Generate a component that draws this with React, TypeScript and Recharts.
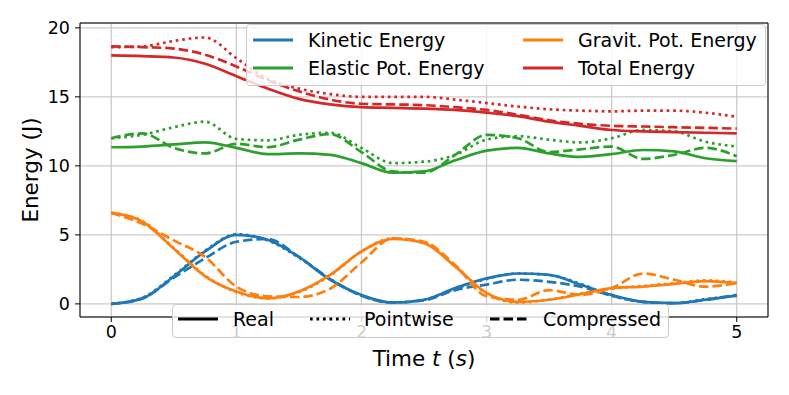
import React from 'react';
import { LineChart, Line, XAxis, YAxis, CartesianGrid, ReferenceArea } from 'recharts';

// time samples (s)
const TIME = [0, 0.25, 0.5, 0.75, 1, 1.25, 1.5, 1.75, 2, 2.25, 2.5, 2.75, 3, 3.25, 3.5, 3.75, 4, 4.25, 4.5, 4.75, 5];

const KINETIC_REAL = [0, 0.4, 2.0, 3.8, 5.0, 4.65, 3.4, 1.75, 0.65, 0.1, 0.3, 1.15, 1.85, 2.2, 2.1, 1.4, 0.65, 0.15, 0.05, 0.3, 0.6];
const KINETIC_POINT = [0, 0.45, 2.05, 3.85, 5.05, 4.6, 3.35, 1.8, 0.6, 0.1, 0.3, 1.1, 1.8, 2.2, 2.1, 1.45, 0.6, 0.15, 0.05, 0.35, 0.6];
const KINETIC_COMP = [0, 0.4, 1.9, 3.3, 4.5, 4.7, 3.4, 1.8, 0.6, 0.1, 0.25, 1.0, 1.4, 1.75, 1.6, 1.25, 0.6, 0.15, 0.05, 0.3, 0.65];

const ELASTIC_REAL = [11.35, 11.4, 11.55, 11.7, 11.3, 10.85, 10.9, 10.8, 10.2, 9.5, 9.6, 10.4, 11.1, 11.3, 10.9, 10.65, 10.85, 11.15, 11.05, 10.55, 10.35];
const ELASTIC_POINT = [12.0, 12.25, 12.8, 13.2, 11.95, 11.85, 12.25, 12.4, 11.3, 10.2, 10.3, 10.8, 11.9, 12.15, 11.9, 11.7, 12.0, 12.6, 12.5, 11.75, 11.4];
const ELASTIC_COMP = [12.0, 12.35, 11.3, 10.9, 11.6, 11.35, 11.9, 12.3, 11.0, 9.6, 9.5, 10.8, 12.25, 12.0, 11.0, 11.2, 11.4, 10.5, 10.8, 11.3, 10.7];

const GRAVIT_REAL = [6.6, 5.95, 4.0, 2.0, 0.9, 0.4, 0.9, 2.1, 3.8, 4.7, 4.4, 2.7, 0.8, 0.15, 0.3, 0.7, 1.15, 1.25, 1.45, 1.65, 1.5];
const GRAVIT_POINT = [6.6, 6.0, 4.05, 2.05, 0.85, 0.4, 0.85, 2.05, 3.8, 4.75, 4.45, 2.75, 0.75, 0.1, 0.3, 0.75, 1.1, 1.3, 1.5, 1.7, 1.55];
const GRAVIT_COMP = [6.6, 5.8, 4.6, 3.4, 1.25, 0.55, 0.5, 1.1, 3.0, 4.75, 4.5, 2.8, 0.55, 0.3, 1.0, 0.65, 1.15, 2.2, 1.75, 1.25, 1.5];

const TOTAL_REAL = [18.0, 17.95, 17.85, 17.4, 16.5, 15.6, 14.85, 14.45, 14.25, 14.2, 14.15, 14.05, 13.85, 13.6, 13.2, 12.9, 12.6, 12.5, 12.45, 12.4, 12.35];
const TOTAL_POINT = [18.6, 18.65, 19.05, 19.3, 17.8, 16.3, 15.6, 15.2, 15.0, 15.0, 15.0, 14.8, 14.55, 14.3, 14.1, 14.0, 13.95, 14.0, 14.0, 13.85, 13.55];
const TOTAL_COMP = [18.65, 18.6, 18.5, 18.05, 17.2, 16.2, 15.4, 14.8, 14.5, 14.45, 14.4, 14.25, 14.05, 13.7, 13.3, 13.05, 12.9, 12.85, 12.8, 12.75, 12.7];

const X_TICKS = [0, 1, 2, 3, 4, 5];
const Y_TICKS = [0, 5, 10, 15, 20];

const ENERGY_LABELS = ['Kinetic Energy', 'Elastic Pot. Energy', 'Gravit. Pot. Energy', 'Total Energy'];
const STYLE_LABELS = ['Real', 'Pointwise', 'Compressed'];

const BLUE = '#1f77b4';
const ORANGE = '#ff7f0e';
const GREEN = '#2ca02c';
const RED = '#d62728';

const DOT = '2.7 3.8';
const DASH = '9.5 4';
const FONT = '"DejaVu Sans", sans-serif';

const SERIES = [
  { key: 'kinReal', values: KINETIC_REAL, color: BLUE, dash: undefined },
  { key: 'kinPoint', values: KINETIC_POINT, color: BLUE, dash: DOT },
  { key: 'kinComp', values: KINETIC_COMP, color: BLUE, dash: DASH },
  { key: 'elaReal', values: ELASTIC_REAL, color: GREEN, dash: undefined },
  { key: 'elaPoint', values: ELASTIC_POINT, color: GREEN, dash: DOT },
  { key: 'elaComp', values: ELASTIC_COMP, color: GREEN, dash: DASH },
  { key: 'graReal', values: GRAVIT_REAL, color: ORANGE, dash: undefined },
  { key: 'graPoint', values: GRAVIT_POINT, color: ORANGE, dash: DOT },
  { key: 'graComp', values: GRAVIT_COMP, color: ORANGE, dash: DASH },
  { key: 'totReal', values: TOTAL_REAL, color: RED, dash: undefined },
  { key: 'totPoint', values: TOTAL_POINT, color: RED, dash: DOT },
  { key: 'totComp', values: TOTAL_COMP, color: RED, dash: DASH },
];

const data = TIME.map((t, i) => {
  const row: any = { t };
  SERIES.forEach((s) => { row[s.key] = s.values[i]; });
  return row;
});

const legendBox: React.CSSProperties = {
  position: 'absolute',
  background: 'rgba(255,255,255,0.8)',
  border: '1px solid #cccccc',
  borderRadius: 4,
  boxSizing: 'border-box',
};

const Sample = ({ x, y, color, dash }: { x: number; y: number; color: string; dash?: string }) => (
  <svg style={{ position: 'absolute', left: x, top: y - 3 }} width={40} height={6}>
    <line x1={0} y1={3} x2={40} y2={3} stroke={color} strokeWidth={2.8} strokeDasharray={dash} />
  </svg>
);

const LegendText = ({ x, y, children }: { x: number; y: number; children: React.ReactNode }) => (
  <div style={{ position: 'absolute', left: x, top: y - 12, lineHeight: '24px', fontSize: 19, fontFamily: FONT, color: '#000', whiteSpace: 'nowrap' }}>
    {children}
  </div>
);

const XLabel = (props: any) => {
  const vb = props.viewBox;
  return (
    <text x={vb.x + vb.width / 2} y={366} textAnchor="middle" fontSize={21.5} fontFamily={FONT} fill="#000">
      <tspan>Time </tspan>
      <tspan fontStyle="italic">t</tspan>
      <tspan> (</tspan>
      <tspan fontStyle="italic">s</tspan>
      <tspan>)</tspan>
    </text>
  );
};

const YLabel = () => (
  <text x={30} y={170} transform="rotate(-90 30 170)" textAnchor="middle" dominantBaseline="central" fontSize={21.5} fontFamily={FONT} fill="#000">
    Energy (J)
  </text>
);

export default function App() {
  const tickStyle = { fill: '#000', fontSize: 17.5, fontFamily: FONT };
  return (
    <div style={{ position: 'fixed', left: 0, top: 0, width: 789, height: 395, background: '#fff' }}>
      <LineChart width={789} height={395} data={data} margin={{ top: 23, right: 21, bottom: 28, left: 20 }}>
        <CartesianGrid stroke="#cbcbcb" strokeWidth={1.3} />
        <XAxis
          dataKey="t"
          type="number"
          domain={[-0.25, 5.25]}
          ticks={X_TICKS}
          allowDataOverflow
          axisLine={false}
          tickLine={{ stroke: '#000' }}
          tickSize={5}
          tickMargin={4}
          tick={tickStyle}
          height={50}
          label={<XLabel />}
        />
        <YAxis
          type="number"
          domain={[-0.95, 20.35]}
          ticks={Y_TICKS}
          allowDataOverflow
          axisLine={false}
          tickLine={{ stroke: '#000' }}
          tickSize={5}
          tickMargin={5}
          tick={tickStyle}
          width={60}
          label={<YLabel />}
        />
        {SERIES.map((s) => (
          <Line
            key={s.key}
            dataKey={s.key}
            type="monotone"
            stroke={s.color}
            strokeWidth={2.7}
            strokeDasharray={s.dash}
            dot={false}
            activeDot={false}
            isAnimationActive={false}
          />
        ))}
        <ReferenceArea x1={-0.25} x2={5.25} y1={-0.95} y2={20.35} fill="none" stroke="#000" strokeWidth={1} ifOverflow="visible" />
      </LineChart>

      {/* energy legend */}
      <div style={{ ...legendBox, left: 246, top: 24, width: 520, height: 62 }} />
      <Sample x={253} y={40} color={BLUE} />
      <LegendText x={308} y={40}>{ENERGY_LABELS[0]}</LegendText>
      <Sample x={253} y={68} color={GREEN} />
      <LegendText x={308} y={68}>{ENERGY_LABELS[1]}</LegendText>
      <Sample x={523} y={40} color={ORANGE} />
      <LegendText x={578} y={40}>{ENERGY_LABELS[2]}</LegendText>
      <Sample x={523} y={68} color={RED} />
      <LegendText x={578} y={68}>{ENERGY_LABELS[3]}</LegendText>

      {/* style legend */}
      <div style={{ ...legendBox, left: 172, top: 304, width: 497, height: 34 }} />
      <Sample x={178} y={319} color="#000" />
      <LegendText x={233} y={319}>{STYLE_LABELS[0]}</LegendText>
      <Sample x={310} y={319} color="#000" dash={DOT} />
      <LegendText x={364} y={319}>{STYLE_LABELS[1]}</LegendText>
      <Sample x={490} y={319} color="#000" dash={DASH} />
      <LegendText x={543} y={319}>{STYLE_LABELS[2]}</LegendText>
    </div>
  );
}
